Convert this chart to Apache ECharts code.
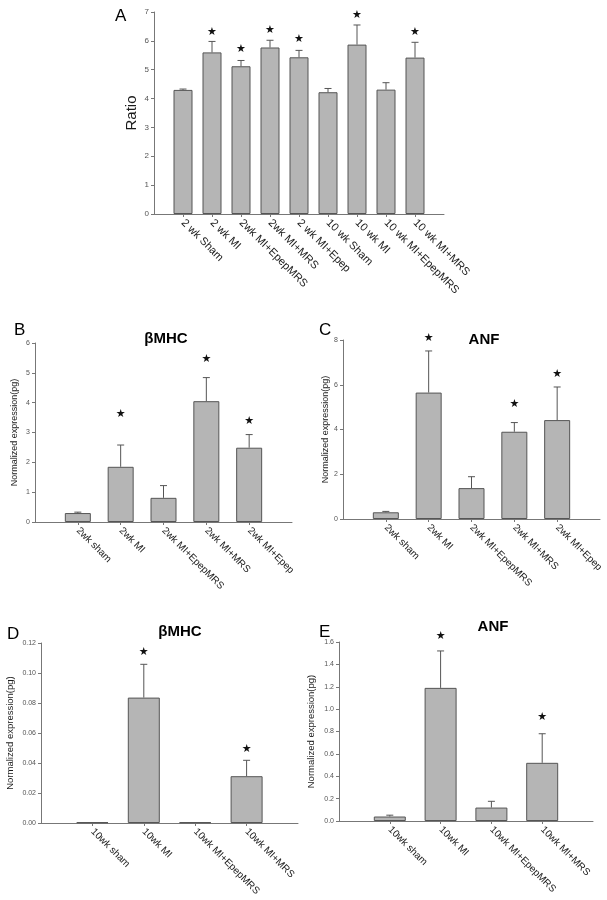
<!DOCTYPE html>
<html>
<head>
<meta charset="utf-8">
<script src="https://cdn.jsdelivr.net/npm/echarts@6/dist/echarts.min.js"></script>
<style>html,body{margin:0;padding:0;background:#fff}#c{width:607px;height:900px}</style>
</head>
<body>
<div id="c"></div>
<script>
// ---- Panel A ----
const catsA = ['2 wk Sham', '2 wk MI', '2wk MI+EpepMRS', '2wk MI+MRS', '2 wk MI+Epep', '10 wk Sham', '10 wk MI', '10 wk MI+EpepMRS', '10 wk MI+MRS'];
const valsA = [4.30, 5.60, 5.12, 5.77, 5.43, 4.22, 5.87, 4.31, 5.42];
const errA  = [0.03, 0.38, 0.20, 0.25, 0.24, 0.13, 0.68, 0.24, 0.53];
const starA = [null, 6.31, 5.71, 6.37, 6.05, null, 6.89, null, 6.29];
// ---- Panel B (βMHC, 2 wk) ----
const catsB = ['2wk sham', '2wk MI', '2wk MI+EpepMRS', '2wk MI+MRS', '2wk MI+Epep'];
const valsB = [0.30, 1.85, 0.81, 4.05, 2.49];
const errB  = [0.03, 0.73, 0.41, 0.79, 0.44];
const starB = [null, 3.61, null, 5.45, 3.38];
// ---- Panel C (ANF, 2 wk) ----
const catsC = ['2wk sham', '2wk MI', '2wk MI+EpepMRS', '2wk MI+MRS', '2wk MI+Epep'];
const valsC = [0.30, 5.65, 1.38, 3.90, 4.42];
const errC  = [0.04, 1.86, 0.51, 0.41, 1.48];
const starC = [null, 8.07, null, 5.13, 6.47];
// ---- Panel D (βMHC, 10 wk) ----
const catsD = ['10wk sham', '10wk MI', '10wk MI+EpepMRS', '10wk MI+MRS'];
const valsD = [0.0005, 0.0836, 0.0005, 0.0312];
const errD  = [0, 0.0222, 0, 0.0106];
const starD = [null, 0.1136, null, 0.0491];
// ---- Panel E (ANF, 10 wk) ----
const catsE = ['10wk sham', '10wk MI', '10wk MI+EpepMRS', '10wk MI+MRS'];
const valsE = [0.04, 1.19, 0.12, 0.52];
const errE  = [0.012, 0.33, 0.056, 0.26];
const starE = [null, 1.648, null, 0.929];
// tick settings
const yA = {min: 0, max: 7, interval: 1, dec: 0};
const yB = {min: 0, max: 6, interval: 1, dec: 0};
const yC = {min: 0, max: 8, interval: 2, dec: 0};
const yD = {min: 0, max: 0.12, interval: 0.02, dec: 2};
const yE = {min: 0, max: 1.6, interval: 0.2, dec: 1};

const FONT = 'Liberation Sans, Arial, sans-serif';
const option = {
  animation: false,
  backgroundColor: '#fff',
  textStyle: {fontFamily: FONT},
  title: [], grid: [], xAxis: [], yAxis: [], series: []
};

function addPanel(i, cats, vals, errs, stars, yc, g, o) {
  option.grid.push(g);
  const n = cats.length;
  const idx = cats.map((_, k) => k);
  option.xAxis.push({
    type: 'value', gridIndex: i, min: -1, max: n, interval: 1,
    splitLine: {show: false},
    axisLine: {show: true, onZero: false, lineStyle: {color: '#777', width: 1}},
    axisTick: {show: true, customValues: idx, length: 3, lineStyle: {color: '#777'}},
    axisLabel: {show: true, customValues: idx, rotate: -45, margin: 7, fontSize: o.xFont, color: '#1a1a1a', fontFamily: FONT,
      formatter: v => cats[Math.round(v)] || ''}
  });
  option.yAxis.push({
    type: 'value', gridIndex: i, min: yc.min, max: yc.max, interval: yc.interval,
    name: o.yName, nameLocation: 'middle', nameGap: o.nameGap, nameRotate: 90,
    nameTextStyle: {fontSize: o.nameFont, color: '#1a1a1a', fontFamily: FONT},
    splitLine: {show: false},
    axisLine: {show: true, onZero: false, lineStyle: {color: '#777', width: 1}},
    axisTick: {show: true, length: 3, lineStyle: {color: '#777'}},
    axisLabel: {fontSize: o.yFont, color: '#555', margin: 5, fontFamily: FONT,
      formatter: v => Number(v).toFixed(yc.dec)}
  });
  option.series.push({
    type: 'bar', xAxisIndex: i, yAxisIndex: i, barWidth: o.barW,
    itemStyle: {color: '#b5b5b5', borderColor: '#555', borderWidth: 1},
    data: vals.map((v, k) => [k, v])
  });
  option.series.push({
    type: 'custom', xAxisIndex: i, yAxisIndex: i, z: 5, clip: false,
    encode: {x: 0, y: 1},
    data: vals.map((v, k) => [k, v, errs[k], stars[k] == null ? 0 : stars[k]]),
    renderItem: function (params, api) {
      const x = api.value(0), v = api.value(1), e = api.value(2), s = api.value(3);
      const ch = [];
      if (e > 0) {
        const p0 = api.coord([x, v]), p1 = api.coord([x, v + e]);
        ch.push({type: 'line', shape: {x1: p0[0], y1: p0[1], x2: p1[0], y2: p1[1]}, style: {stroke: '#555', lineWidth: 1}});
        ch.push({type: 'line', shape: {x1: p1[0] - 3.5, y1: p1[1], x2: p1[0] + 3.5, y2: p1[1]}, style: {stroke: '#555', lineWidth: 1}});
      }
      if (s > 0) {
        const ps = api.coord([x, s]);
        ch.push({type: 'text', x: ps[0], y: ps[1], style: {text: '★', fill: '#111', fontSize: 11, align: 'center', verticalAlign: 'middle', fontFamily: 'DejaVu Sans'}});
      }
      return {type: 'group', children: ch};
    }
  });
}

addPanel(0, catsA, valsA, errA, starA, yA, {left: 154, top: 12, width: 290, height: 202},
  {xFont: 11, yFont: 8, yName: 'Ratio', nameGap: 15, nameFont: 15, barW: 19});
addPanel(1, catsB, valsB, errB, starB, yB, {left: 35, top: 343, width: 257, height: 179},
  {xFont: 10, yFont: 7, yName: 'Normalized expression(pg)', nameGap: 16, nameFont: 9, barW: 26});
addPanel(2, catsC, valsC, errC, starC, yC, {left: 343, top: 340, width: 257, height: 179},
  {xFont: 10, yFont: 7, yName: 'Normalized expression(pg)', nameGap: 11, nameFont: 9, barW: 26});
addPanel(3, catsD, valsD, errD, starD, yD, {left: 41, top: 643, width: 257, height: 180},
  {xFont: 10, yFont: 7, yName: 'Normalized expression(pg)', nameGap: 26, nameFont: 9.5, barW: 32});
addPanel(4, catsE, valsE, errE, starE, yE, {left: 339, top: 642, width: 254, height: 179},
  {xFont: 10, yFont: 7, yName: 'Normalized expression(pg)', nameGap: 23, nameFont: 9.5, barW: 32});

const letter = {fontSize: 17, fontWeight: 'normal', color: '#000', fontFamily: FONT};
const head = {fontSize: 15, fontWeight: 'bold', color: '#000', fontFamily: FONT};
option.title = [
  {text: 'A', left: 110, top: 3, textStyle: letter},
  {text: 'B', left: 9, top: 317, textStyle: letter},
  {text: 'C', left: 314, top: 317, textStyle: letter},
  {text: 'D', left: 2, top: 621, textStyle: letter},
  {text: 'E', left: 314, top: 619, textStyle: letter},
  {text: 'βMHC', left: 161, top: 326, textAlign: 'center', textStyle: head},
  {text: 'ANF', left: 479, top: 327, textAlign: 'center', textStyle: head},
  {text: 'βMHC', left: 175, top: 619, textAlign: 'center', textStyle: head},
  {text: 'ANF', left: 488, top: 614, textAlign: 'center', textStyle: head}
];

const chart = echarts.init(document.getElementById('c'), null, {renderer: 'canvas'});
chart.setOption(option);
</script>
</body>
</html>
